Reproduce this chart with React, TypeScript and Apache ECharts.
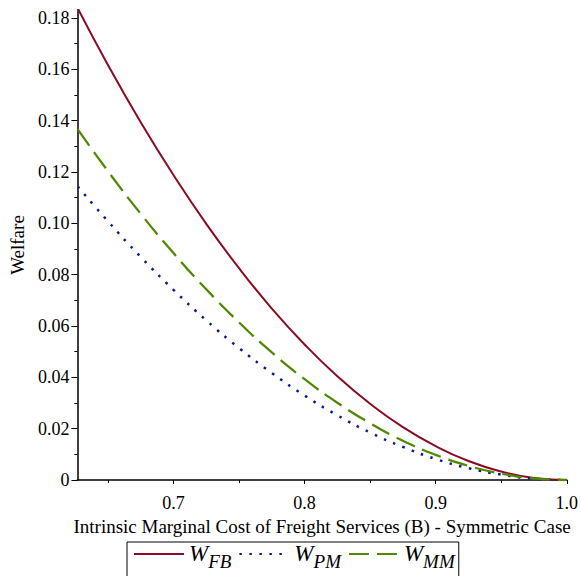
import React, { useEffect, useRef } from "react";
import * as echarts from "echarts";

const xs = [0.627, 0.65, 0.675, 0.7, 0.725, 0.75, 0.775, 0.8, 0.825, 0.85, 0.875, 0.9, 0.925, 0.95, 0.975, 1.0];
const wFB = [0.1837, 0.1617, 0.1394, 0.1188, 0.0998, 0.0825, 0.0668, 0.0528, 0.0404, 0.0297, 0.0206, 0.0132, 0.0074, 0.0033, 0.0008, 0];
const wPM = [0.1143, 0.1008, 0.0869, 0.0741, 0.0622, 0.0514, 0.0417, 0.0329, 0.0252, 0.0185, 0.0129, 0.0082, 0.0046, 0.0021, 0.0005, 0];
const wMM = [0.1366, 0.1203, 0.1037, 0.0884, 0.0743, 0.0614, 0.0497, 0.0393, 0.0301, 0.0221, 0.0153, 0.0098, 0.0055, 0.0025, 0.0006, 0];

const xLabels = [0.7, 0.8, 0.9, 1.0];
const xMinor = [0.65, 0.75, 0.85, 0.95];
const yLabels = [0, 0.02, 0.04, 0.06, 0.08, 0.1, 0.12, 0.14, 0.16, 0.18];
const yMinor = [0.01, 0.03, 0.05, 0.07, 0.09, 0.11, 0.13, 0.15, 0.17];

const xTitle = "Intrinsic Marginal Cost of Freight Services (B) - Symmetric Case";
const yTitle = "Welfare";
const seriesNames = ["FB", "PM", "MM"];

const FONT = "Liberation Serif";

export default function App() {
  const ref = useRef<HTMLDivElement>(null);
  useEffect(() => {
    document.body.style.margin = "0";
    if (!ref.current) return;
    const chart = echarts.init(ref.current, null, { renderer: "svg" });
    const X_MIN = 0.6267;
    const X_MAX = 1.0;
    const Y_MIN = 0;
    const Y_MAX = 0.1831;
    const pair = (ys: number[]) => xs.map((x, i) => [x, ys[i]]);
    chart.setOption({
      animation: false,
      backgroundColor: "#fff",
      textStyle: { fontFamily: FONT, fontSize: 18, color: "#000" },
      grid: { left: 74, right: 13, top: 10, bottom: 96, containLabel: false },
      xAxis: [
        {
          type: "value",
          min: X_MIN,
          max: X_MAX,
          position: "bottom",
          name: xTitle,
          nameLocation: "middle",
          nameGap: 33,
          nameTextStyle: { fontFamily: FONT, fontSize: 19, color: "#000" },
          axisLine: { show: true, onZero: false, lineStyle: { color: "#000", width: 1.5 } },
          axisTick: { show: true, inside: false, length: 4, customValues: xLabels, lineStyle: { color: "#000", width: 1 } },
          axisLabel: {
            show: true,
            margin: 14,
            customValues: xLabels,
            formatter: (v: number) => v.toFixed(1),
            fontFamily: FONT,
            fontSize: 18,
            color: "#000",
          },
          splitLine: { show: false },
        },
        {
          type: "value",
          min: X_MIN,
          max: X_MAX,
          position: "bottom",
          axisLine: { show: false },
          axisTick: { show: true, inside: false, length: 3, customValues: xMinor, lineStyle: { color: "#000", width: 1 } },
          axisLabel: { show: false },
          splitLine: { show: false },
        },
      ],
      yAxis: [
        {
          type: "value",
          min: Y_MIN,
          max: Y_MAX,
          position: "left",
          name: yTitle,
          nameLocation: "middle",
          nameGap: 47,
          nameRotate: 90,
          nameTextStyle: { fontFamily: FONT, fontSize: 19, color: "#000" },
          axisLine: { show: true, onZero: false, lineStyle: { color: "#000", width: 1.5 } },
          axisTick: { show: true, inside: false, length: 6, customValues: yLabels, lineStyle: { color: "#000", width: 1 } },
          axisLabel: {
            show: true,
            margin: 8,
            customValues: yLabels,
            formatter: (v: number) => (v === 0 ? "0" : v.toFixed(2)),
            fontFamily: FONT,
            fontSize: 18,
            color: "#000",
          },
          splitLine: { show: false },
        },
        {
          type: "value",
          min: Y_MIN,
          max: Y_MAX,
          position: "left",
          axisLine: { show: false },
          axisTick: { show: true, inside: false, length: 3, customValues: yMinor, lineStyle: { color: "#000", width: 1 } },
          axisLabel: { show: false },
          splitLine: { show: false },
        },
      ],
      legend: {
        show: true,
        left: 127,
        top: 542,
        orient: "horizontal",
        data: seriesNames,
        itemWidth: 50,
        itemHeight: 14,
        itemGap: 7,
        padding: [0, 4, 8, 6],
        borderColor: "#000",
        borderWidth: 1,
        backgroundColor: "#fff",
        itemStyle: { opacity: 0 },
        formatter: (name: string) => `{w|W}{s|${name}}`,
        textStyle: {
          color: "#000",
          fontFamily: FONT,
          rich: {
            w: { fontFamily: FONT, fontStyle: "italic", fontSize: 23, lineHeight: 24, verticalAlign: "top", color: "#000" },
            s: { fontFamily: FONT, fontStyle: "italic", fontSize: 19, lineHeight: 20, padding: [10, 0, 0, 0], verticalAlign: "top", color: "#000" },
          },
        },
      },
      series: [
        {
          name: seriesNames[0],
          type: "line",
          data: pair(wFB),
          smooth: true,
          symbol: "none",
          clip: true,
          lineStyle: { color: "#8a0c22", width: 2 },
          itemStyle: { color: "#8a0c22" },
        },
        {
          name: seriesNames[1],
          type: "line",
          data: pair(wPM),
          smooth: true,
          symbol: "none",
          clip: true,
          lineStyle: { color: "#0a1a8f", width: 2.5, type: [2.5, 7.5] },
          itemStyle: { color: "#0a1a8f" },
        },
        {
          name: seriesNames[2],
          type: "line",
          data: pair(wMM),
          smooth: true,
          symbol: "none",
          clip: true,
          lineStyle: { color: "#4f8a00", width: 2.3, type: [20, 8] },
          itemStyle: { color: "#4f8a00" },
        },
      ],
    });
    return () => chart.dispose();
  }, []);
  return <div ref={ref} style={{ width: 581, height: 576 }} />;
}
